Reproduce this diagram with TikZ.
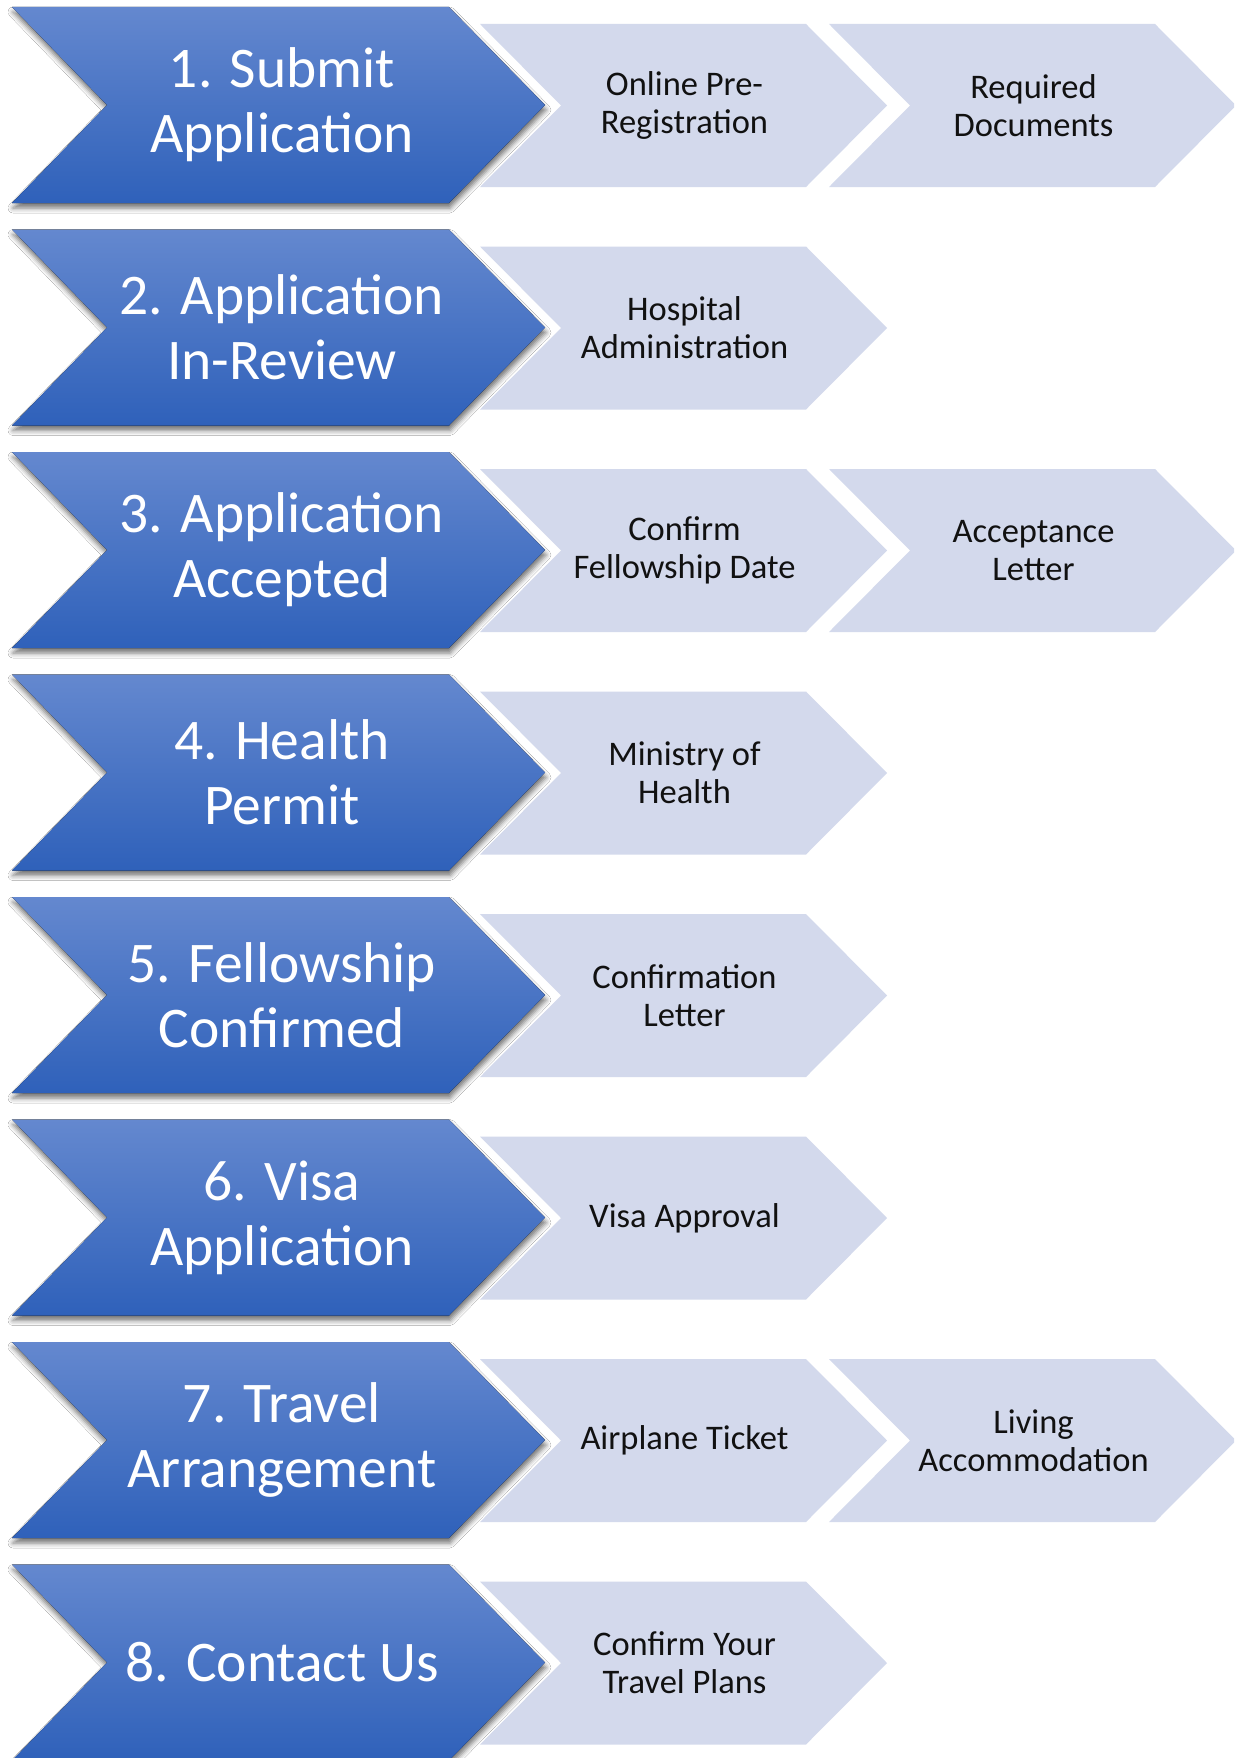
\documentclass[tikz,border=0pt]{standalone}
\usepackage{fontspec}
\setmainfont{Carlito}
\usetikzlibrary{shadows.blur}
\definecolor{bluetop}{HTML}{6488CF}
\definecolor{bluemid}{HTML}{4472C4}
\definecolor{bluebot}{HTML}{2F61BA}
\definecolor{lightfill}{HTML}{D3D9EC}
\definecolor{darktext}{HTML}{111111}
\tikzset{
  bluechevstyle/.style={top color=bluetop, middle color=bluemid, bottom color=bluebot, draw=none,
    blur shadow={shadow xshift=1pt, shadow yshift=-5pt, shadow blur radius=5pt, shadow opacity=55}},
  lightchevstyle/.style={fill=lightfill, draw=none},
  bluetext/.style={text=white, align=center, inner sep=0pt, font=\fontsize{57.5}{65}\selectfont},
  lighttext/.style={text=darktext, align=center, inner sep=0pt, font=\fontsize{34.5}{38}\selectfont},
}
\newcommand\bluechev[2]{%
  \pgfmathsetmacro\yt{7+222.5*(#1-1)}%
  \fill[bluechevstyle] (12,\yt) -- ++(437,0) -- ++(96,98) -- ++(-96,98) -- ++(-437,0) -- ++(95,-98) -- cycle;
  \node[bluetext] (b#1) at (282,\yt+98) {#2};
}
\newcommand\lightchev[3]{%
  \pgfmathsetmacro\yt{24+222.5*(#1-1)}%
  \pgfmathsetmacro\xl{480+349*#2}%
  \fill[lightchevstyle] (\xl,\yt) -- ++(326,0) -- ++(81,81.5) -- ++(-81,81.5) -- ++(-326,0) -- ++(81,-81.5) -- cycle;
  \node[lighttext] (l#1#2) at (\xl+204.5,\yt+81.5) {#3};
}
\begin{document}
\begin{tikzpicture}[x=1pt,y=-1pt]
\useasboundingbox (0,0) rectangle (1234,1758);
\clip (0,0) rectangle (1234,1758);
\fill[white] (0,0) rectangle (1234,1758);
\lightchev{1}{0}{Online Pre-\\Registration}
\lightchev{1}{1}{Required\\Documents}
\bluechev{1}{1. Submit\\Application}
\lightchev{2}{0}{Hospital\\Administration}
\bluechev{2}{2. Application\\In-Review}
\lightchev{3}{0}{Confirm\\Fellowship Date}
\lightchev{3}{1}{Acceptance\\Letter}
\bluechev{3}{3. Application\\Accepted}
\lightchev{4}{0}{Ministry of\\Health}
\bluechev{4}{4. Health\\Permit}
\lightchev{5}{0}{Confirmation\\Letter}
\bluechev{5}{5. Fellowship\\Confirmed}
\lightchev{6}{0}{Visa Approval}
\bluechev{6}{6. Visa\\Application}
\lightchev{7}{0}{Airplane Ticket}
\lightchev{7}{1}{Living\\Accommodation}
\bluechev{7}{7. Travel\\Arrangement}
\lightchev{8}{0}{Confirm Your\\Travel Plans}
\bluechev{8}{8. Contact Us}
\end{tikzpicture}
\end{document}
